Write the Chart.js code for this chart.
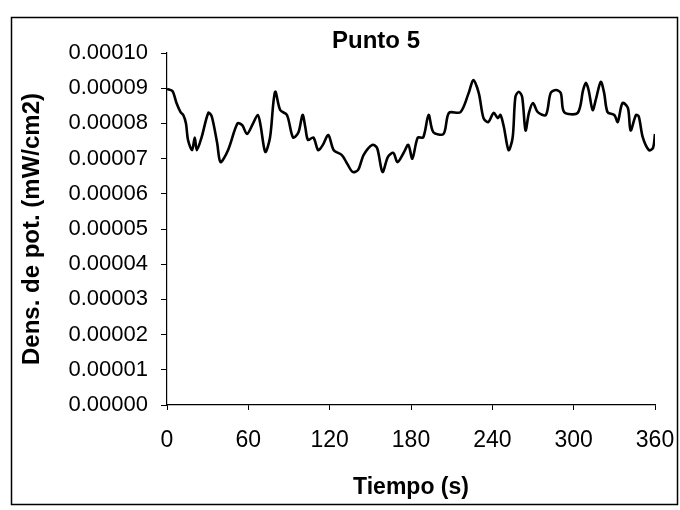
<!DOCTYPE html>
<html>
<head>
<meta charset="utf-8">
<script src="https://cdn.jsdelivr.net/npm/chart.js@4/dist/chart.umd.min.js"></script>
<style>
  html, body { margin: 0; padding: 0; background: #fff; }
  #wrap { width: 680px; height: 510px; position: relative; }
</style>
</head>
<body>
<div id="wrap"><canvas id="c" width="680" height="510"></canvas></div>
<script>
const chartTitle = "Punto 5";
const xTitle = "Tiempo (s)";
const yTitle = "Dens. de pot. (mW/cm2)";
const xTicks = [0, 60, 120, 180, 240, 300, 360];
const yTicks = [0, 0.00001, 0.00002, 0.00003, 0.00004, 0.00005, 0.00006, 0.00007, 0.00008, 0.00009, 0.00010];

const times = [0, 4, 7, 10, 12, 14, 15.5, 18.5, 20.5, 22, 25.5, 30.5, 33, 37, 39.5, 45, 52, 55.5, 59, 63.5,
  67, 69, 72.5, 76, 78.5, 80, 83.5, 88.5, 93, 97, 100, 102, 104, 108, 111.5, 115, 119, 123, 129, 133,
  137, 141, 145, 151.5, 155, 159, 163, 167, 170, 174.5, 178, 181, 185, 189, 193, 196.5, 204, 208, 216.5, 222.5,
  226, 230, 233.5, 237, 241, 244, 246, 248.5, 252, 255, 257, 259.5, 262, 264.5, 267, 270, 273.5, 279.5, 283, 287,
  290.5, 293, 303, 307, 309, 311, 314, 316.5, 320, 322.5, 325, 330, 332.5, 336, 340, 342, 346, 348, 351, 355.5,
  358.5, 360];
const density = [8.98e-5, 8.92e-5, 8.58e-5, 8.32e-5, 8.24e-5, 8.00e-5, 7.53e-5, 7.24e-5, 7.60e-5, 7.24e-5, 7.60e-5, 8.30e-5, 8.20e-5, 7.44e-5, 6.90e-5, 7.24e-5, 8.00e-5, 7.95e-5, 7.70e-5, 8.00e-5,
  8.24e-5, 7.95e-5, 7.19e-5, 7.60e-5, 8.60e-5, 8.90e-5, 8.38e-5, 8.24e-5, 7.60e-5, 7.75e-5, 8.24e-5, 7.90e-5, 7.53e-5, 7.60e-5, 7.24e-5, 7.39e-5, 7.67e-5, 7.24e-5, 7.10e-5, 6.85e-5,
  6.62e-5, 6.68e-5, 7.10e-5, 7.39e-5, 7.30e-5, 6.62e-5, 7.05e-5, 7.16e-5, 6.90e-5, 7.16e-5, 7.39e-5, 7.00e-5, 7.60e-5, 7.60e-5, 8.24e-5, 7.75e-5, 7.70e-5, 8.30e-5, 8.32e-5, 8.86e-5,
  9.23e-5, 8.86e-5, 8.15e-5, 8.04e-5, 8.30e-5, 8.15e-5, 8.24e-5, 7.90e-5, 7.24e-5, 7.60e-5, 8.75e-5, 8.90e-5, 8.75e-5, 7.80e-5, 8.30e-5, 8.58e-5, 8.32e-5, 8.24e-5, 8.86e-5, 8.95e-5,
  8.86e-5, 8.32e-5, 8.30e-5, 8.95e-5, 9.15e-5, 8.95e-5, 8.38e-5, 8.70e-5, 9.18e-5, 8.86e-5, 8.32e-5, 8.24e-5, 8.04e-5, 8.58e-5, 8.44e-5, 7.80e-5, 8.24e-5, 8.20e-5, 7.60e-5, 7.24e-5,
  7.30e-5, 7.70e-5];

const points = times.map((t, i) => ({ x: t, y: density[i] }));
const FONT = "'Liberation Sans', Arial, sans-serif";

const framePlugin = {
  id: 'frame',
  beforeDraw(chart) {
    const ctx = chart.ctx;
    ctx.save();
    ctx.fillStyle = '#fff';
    ctx.fillRect(0, 0, chart.width, chart.height);
    ctx.strokeStyle = '#000';
    ctx.lineWidth = 1.5;
    ctx.strokeRect(11.5, 17.5, 666, 487);
    ctx.restore();
  },
  afterDraw(chart) {
    const ctx = chart.ctx;
    ctx.save();
    ctx.fillStyle = '#000';
    ctx.font = "bold 24px " + FONT;
    ctx.textAlign = 'center';
    ctx.textBaseline = 'middle';
    ctx.fillText(chartTitle, 376, 41);
    ctx.restore();
  }
};

new Chart(document.getElementById('c'), {
  type: 'line',
  data: {
    datasets: [{
      data: points,
      borderColor: '#000',
      borderWidth: 2.6,
      pointRadius: 0,
      tension: 0.3,
      fill: false
    }]
  },
  options: {
    responsive: false,
    animation: false,
    layout: { padding: { left: 12, right: 25, top: 53, bottom: 0 } },
    plugins: { legend: { display: false }, title: { display: false }, tooltip: { enabled: false } },
    scales: {
      x: {
        type: 'linear',
        min: 0, max: 360,
        afterBuildTicks: s => { s.ticks = xTicks.map(v => ({ value: v })); },
        afterFit: s => { s.height = 105; s.paddingRight = 0; s.paddingLeft = 0; },
        border: { color: '#000', width: 1.2 },
        grid: { display: true, drawOnChartArea: false, drawTicks: true, tickLength: 5, color: '#000', lineWidth: 1 },
        ticks: { color: '#000', font: { family: FONT, size: 23 }, padding: 17, maxRotation: 0, autoSkip: false },
        title: { display: true, text: xTitle, color: '#000', font: { family: FONT, size: 23, weight: 'bold' }, padding: { top: 0, bottom: 9 } }
      },
      y: {
        min: 0, max: 0.0001,
        afterBuildTicks: s => { s.ticks = yTicks.map(v => ({ value: v })); },
        afterFit: s => { s.width = 155; s.paddingTop = 0; s.paddingBottom = 0; },
        border: { color: '#000', width: 1.2 },
        grid: { display: true, drawOnChartArea: false, drawTicks: true, tickLength: 6, color: '#000', lineWidth: 1 },
        ticks: { color: '#000', font: { family: FONT, size: 22 }, padding: 13, autoSkip: false,
          callback: v => Number(v).toFixed(5) },
        title: { display: true, text: yTitle, color: '#000', font: { family: FONT, size: 24, weight: 'bold' }, padding: { top: 6, bottom: 0 } }
      }
    }
  },
  plugins: [framePlugin]
});
</script>
</body>
</html>
